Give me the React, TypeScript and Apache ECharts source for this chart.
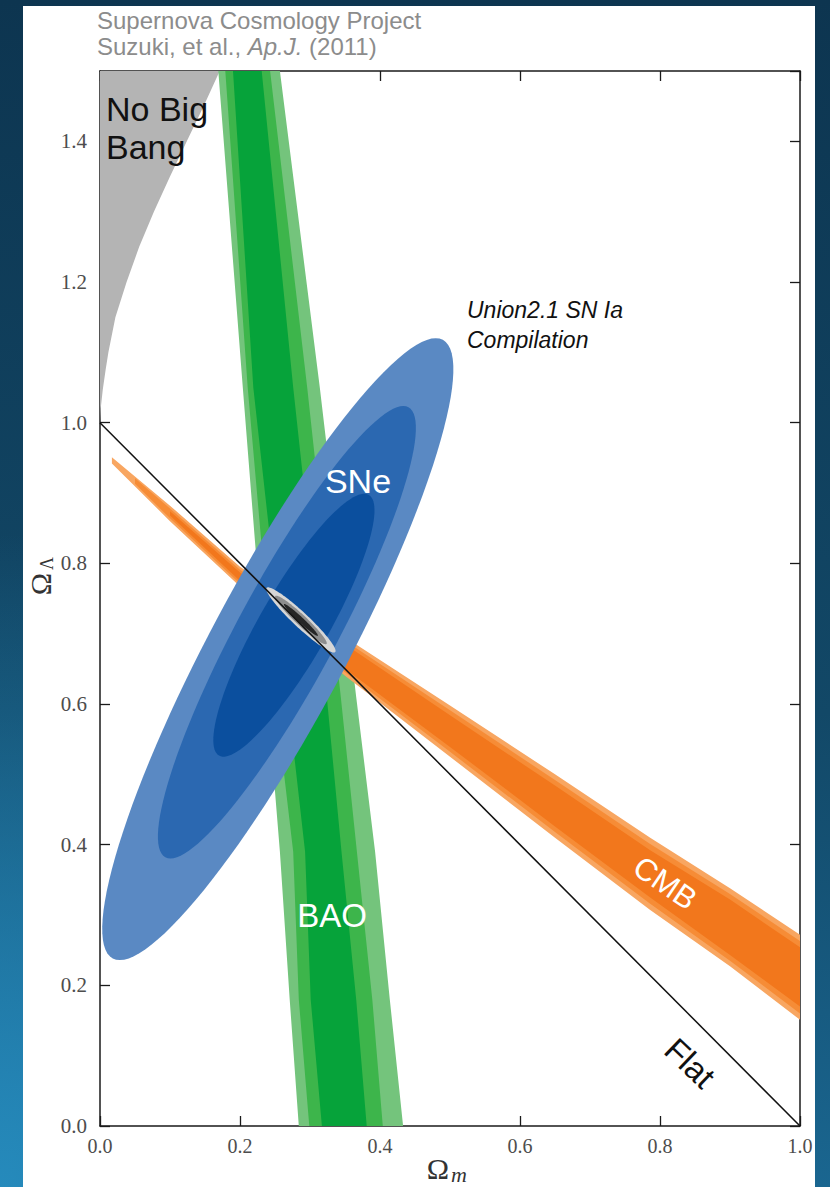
import React, { useEffect, useRef } from "react";
import * as echarts from "echarts";

// ---------- data ----------
const xTickValues = [0, 0.2, 0.4, 0.6, 0.8, 1.0];
const yTickValues = [0, 0.2, 0.4, 0.6, 0.8, 1.0, 1.2, 1.4];

// "No Big Bang" boundary (Omega_m, Omega_Lambda); region above it is shaded
const noBigBangEdge: [number, number][] = [
  [0, 1.0], [0.001, 1.02], [0.004, 1.047], [0.008, 1.075], [0.012, 1.1],
  [0.022, 1.15], [0.038, 1.2], [0.056, 1.25], [0.077, 1.3], [0.1, 1.35],
  [0.124, 1.4], [0.148, 1.45], [0.171, 1.5],
];
const noBigBangCorner: [number, number] = [0, 1.5];

// BAO band: left / right Omega_m edges at given Omega_Lambda
const baoLambda = [1.5, 1.05, 0.61, 0.39, 0.18, 0];
const baoOuterLeft = [0.169, 0.204, 0.239, 0.257, 0.271, 0.284];
const baoOuterRight = [0.257, 0.314, 0.366, 0.393, 0.414, 0.433];
const baoMidLeft = [0.179, 0.211, 0.25, 0.276, 0.284, 0.299];
const baoMidRight = [0.243, 0.296, 0.344, 0.367, 0.389, 0.404];
const baoInnerLeft = [0.19, 0.219, 0.268, 0.293, 0.301, 0.317];
const baoInnerRight = [0.231, 0.276, 0.324, 0.345, 0.366, 0.381];

// CMB band: upper / lower Omega_Lambda edges at given Omega_m
const cmbOuterMatter = [0.017, 0.1, 0.2, 0.35, 0.5, 0.65, 0.786, 0.9, 1.0];
const cmbOuterUpper = [0.951, 0.882, 0.795, 0.695, 0.598, 0.5, 0.41, 0.338, 0.272];
const cmbOuterLower = [0.942, 0.86, 0.767, 0.64, 0.525, 0.41, 0.307, 0.227, 0.151];
const cmbMidMatter = [0.05, 0.1, 0.2, 0.35, 0.5, 0.65, 0.786, 0.9, 1.0];
const cmbMidUpper = [0.921, 0.878, 0.791, 0.69, 0.591, 0.492, 0.401, 0.33, 0.263];
const cmbMidLower = [0.913, 0.864, 0.771, 0.645, 0.532, 0.418, 0.316, 0.235, 0.16];
const cmbInnerMatter = [0.1, 0.2, 0.35, 0.5, 0.65, 0.786, 0.9, 1.0];
const cmbInnerUpper = [0.874, 0.787, 0.685, 0.584, 0.484, 0.392, 0.322, 0.254];
const cmbInnerLower = [0.868, 0.775, 0.65, 0.539, 0.426, 0.325, 0.243, 0.17];

// SNe confidence ellipses (centre, semi-axes in data units, tilt in degrees)
const sneCentreM = [0.254, 0.267, 0.277];
const sneCentreL = [0.678, 0.702, 0.712];
const sneSemiMajor = [0.499, 0.364, 0.214];
const sneSemiMinor = [0.097, 0.07, 0.049];
const sneTilt = [61.8, 61.5, 60];

// combined constraint ellipses
const combCentreM = [0.287, 0.287, 0.287];
const combCentreL = [0.7195, 0.7195, 0.7195];
const combSemiMajor = [0.067, 0.05, 0.033];
const combSemiMinor = [0.0107, 0.0075, 0.0038];
const combTilt = [-43, -43, -43];

// flat universe line
const flatLine: [number, number][] = [[0, 1], [1, 0]];

// ---------- styles ----------
const baoColors = ["#74c47c", "#3db54b", "#06a33a"];
const cmbColors = ["#f8a661", "#f68c36", "#f2771c"];
const sneColors = ["#5a89c3", "#2b68b1", "#0b4f9e"];
const combColors = ["#d6d6d6", "#8d8d8d", "#262626"];
const nbbColor = "#b4b4b4";

function vBand(api: any, lam: number[], left: number[], right: number[]) {
  const pts: number[][] = [];
  lam.forEach((l, i) => pts.push(api.coord([left[i], l])));
  for (let i = lam.length - 1; i >= 0; i--) pts.push(api.coord([right[i], lam[i]]));
  return pts;
}

function hBand(api: any, xs: number[], up: number[], lo: number[]) {
  const pts: number[][] = [];
  xs.forEach((x, i) => pts.push(api.coord([x, up[i]])));
  for (let i = xs.length - 1; i >= 0; i--) pts.push(api.coord([xs[i], lo[i]]));
  return pts;
}

function ellipse(api: any, cx: number, cy: number, a: number, b: number, tilt: number) {
  const pts: number[][] = [];
  const th = (tilt * Math.PI) / 180;
  const n = 120;
  for (let k = 0; k < n; k++) {
    const t = (2 * Math.PI * k) / n;
    const dx = a * Math.cos(t) * Math.cos(th) - b * Math.sin(t) * Math.sin(th);
    const dy = a * Math.cos(t) * Math.sin(th) + b * Math.sin(t) * Math.cos(th);
    pts.push(api.coord([cx + dx, cy + dy]));
  }
  return pts;
}

const serif = "'Liberation Serif', 'DejaVu Serif', serif";
const sans = "'Liberation Sans', Arial, Helvetica, sans-serif";

export default function App() {
  const ref = useRef<HTMLDivElement>(null);

  useEffect(() => {
    if (!ref.current) return;
    const chart = echarts.init(ref.current, undefined, { renderer: "svg" });

    const axisLine = { show: true, onZero: false, lineStyle: { color: "#1a1a1a", width: 1.5 } };
    const axisTick = { show: true, inside: true, length: 10, lineStyle: { color: "#1a1a1a", width: 1.3 } };
    const custom = (render: (api: any) => any[]) => ({
      type: "custom",
      coordinateSystem: "cartesian2d",
      xAxisIndex: 0,
      yAxisIndex: 0,
      clip: true,
      silent: true,
      data: [[0.5, 0.5]],
      renderItem: (_p: any, api: any) => ({ type: "group", children: render(api) }),
    });

    const option: any = {
      animation: false,
      backgroundColor: "transparent",
      grid: { left: 100, top: 71, width: 700, height: 1055, containLabel: false },
      xAxis: [
        {
          type: "value", min: 0, max: 1, interval: 0.2, position: "bottom",
          axisLine, axisTick,
          axisLabel: {
            show: true, color: "#4d4d4d", fontFamily: serif, fontSize: 20, margin: 10,
            formatter: (v: number) => (xTickValues.some((t) => Math.abs(t - v) < 1e-9) ? v.toFixed(1) : ""),
          },
          splitLine: { show: false },
        },
        {
          type: "value", min: 0, max: 1, interval: 0.2, position: "top",
          axisLine, axisTick, axisLabel: { show: false }, splitLine: { show: false },
        },
      ],
      yAxis: [
        {
          type: "value", min: 0, max: 1.5, interval: 0.2, position: "left",
          axisLine, axisTick,
          axisLabel: {
            show: true, color: "#4d4d4d", fontFamily: serif, fontSize: 21, margin: 13,
            showMaxLabel: false,
            formatter: (v: number) => (yTickValues.some((t) => Math.abs(t - v) < 1e-9) ? v.toFixed(1) : ""),
          },
          splitLine: { show: false },
        },
        {
          type: "value", min: 0, max: 1.5, interval: 0.2, position: "right",
          axisLine, axisTick, axisLabel: { show: false }, splitLine: { show: false },
        },
      ],
      series: [
        custom((api) => {
          const pts = noBigBangEdge.map((p) => api.coord(p));
          pts.push(api.coord(noBigBangCorner));
          return [{ type: "polygon", shape: { points: pts }, style: { fill: nbbColor } }];
        }),
        custom((api) => [
          { type: "polygon", shape: { points: vBand(api, baoLambda, baoOuterLeft, baoOuterRight) }, style: { fill: baoColors[0] } },
          { type: "polygon", shape: { points: vBand(api, baoLambda, baoMidLeft, baoMidRight) }, style: { fill: baoColors[1] } },
          { type: "polygon", shape: { points: vBand(api, baoLambda, baoInnerLeft, baoInnerRight) }, style: { fill: baoColors[2] } },
        ]),
        custom((api) => [
          { type: "polygon", shape: { points: hBand(api, cmbOuterMatter, cmbOuterUpper, cmbOuterLower) }, style: { fill: cmbColors[0] } },
          { type: "polygon", shape: { points: hBand(api, cmbMidMatter, cmbMidUpper, cmbMidLower) }, style: { fill: cmbColors[1] } },
          { type: "polygon", shape: { points: hBand(api, cmbInnerMatter, cmbInnerUpper, cmbInnerLower) }, style: { fill: cmbColors[2] } },
        ]),
        custom((api) =>
          sneCentreM.map((_, i) => ({
            type: "polygon",
            shape: { points: ellipse(api, sneCentreM[i], sneCentreL[i], sneSemiMajor[i], sneSemiMinor[i], sneTilt[i]) },
            style: { fill: sneColors[i] },
          }))
        ),
        custom((api) =>
          combCentreM.map((_, i) => ({
            type: "polygon",
            shape: { points: ellipse(api, combCentreM[i], combCentreL[i], combSemiMajor[i], combSemiMinor[i], combTilt[i]) },
            style: { fill: combColors[i] },
          }))
        ),
        {
          type: "line", xAxisIndex: 0, yAxisIndex: 0, data: flatLine, symbol: "none", silent: true,
          lineStyle: { color: "#111", width: 1.5 },
        },
      ],
      graphic: [
        { type: "text", z: 100, x: 97, y: 8, style: { text: "Supernova Cosmology Project", fill: "#8c8c8c", font: `24px ${sans}` } },
        {
          type: "text", z: 100, x: 97, y: 34,
          style: {
            text: "{n|Suzuki, et al., }{i|Ap.J.}{n| (2011)}",
            rich: {
              n: { fill: "#8c8c8c", fontSize: 24, fontFamily: sans },
              i: { fill: "#8c8c8c", fontSize: 24, fontFamily: sans, fontStyle: "italic" },
            },
          },
        },
        { type: "text", z: 100, x: 106, y: 92, style: { text: "No Big", fill: "#111", font: `34px ${sans}` } },
        { type: "text", z: 100, x: 106, y: 130, style: { text: "Bang", fill: "#111", font: `34px ${sans}` } },
        { type: "text", z: 100, x: 467, y: 298, style: { text: "Union2.1 SN Ia", fill: "#111", font: `italic 23px ${sans}` } },
        { type: "text", z: 100, x: 467, y: 328, style: { text: "Compilation", fill: "#111", font: `italic 23px ${sans}` } },
        { type: "text", z: 100, x: 358, y: 481, style: { text: "SNe", fill: "#fff", font: `34px ${sans}`, align: "center", verticalAlign: "middle" } },
        { type: "text", z: 100, x: 332, y: 915, style: { text: "BAO", fill: "#fff", font: `33px ${sans}`, align: "center", verticalAlign: "middle" } },
        { type: "text", z: 100, x: 665, y: 883, rotation: -0.6, style: { text: "CMB", fill: "#fff", font: `31px ${sans}`, align: "center", verticalAlign: "middle" } },
        { type: "text", z: 100, x: 690, y: 1063, rotation: -0.76, style: { text: "Flat", fill: "#111", font: `33px ${sans}`, align: "center", verticalAlign: "middle" } },
        // axis names
        { type: "text", z: 100, x: 438, y: 1168, style: { text: "Ω", fill: "#333", font: `30px ${serif}`, align: "center", verticalAlign: "middle" } },
        { type: "text", z: 100, x: 451, y: 1174, style: { text: "m", fill: "#333", font: `italic 22px ${serif}`, align: "left", verticalAlign: "middle" } },
        {
          type: "group", z: 100, x: 40, y: 578, rotation: Math.PI / 2,
          children: [
            { type: "text", z: 100, x: -6, y: 0, style: { text: "Ω", fill: "#333", font: `30px ${serif}`, align: "center", verticalAlign: "middle" } },
            { type: "text", z: 100, x: 8, y: 7, style: { text: "Λ", fill: "#333", font: `18px ${serif}`, align: "left", verticalAlign: "middle" } },
          ],
        },
      ],
    };

    chart.setOption(option);
    return () => chart.dispose();
  }, []);

  return (
    <div
      style={{
        position: "absolute", left: 0, top: 0, width: 830, height: 1187, overflow: "hidden",
        background:
          "radial-gradient(ellipse 70% 55% at 0% 100%, rgba(38,140,190,0.95), rgba(38,140,190,0) 100%), linear-gradient(180deg, #0d3550 0%, #124867 60%, #1a6690 100%)",
      }}
    >
      <div style={{ position: "absolute", left: 23, top: 6, width: 792, height: 1181, background: "#ffffff" }} />
      <div ref={ref} style={{ position: "absolute", left: 0, top: 0, width: 830, height: 1187 }} />
    </div>
  );
}
